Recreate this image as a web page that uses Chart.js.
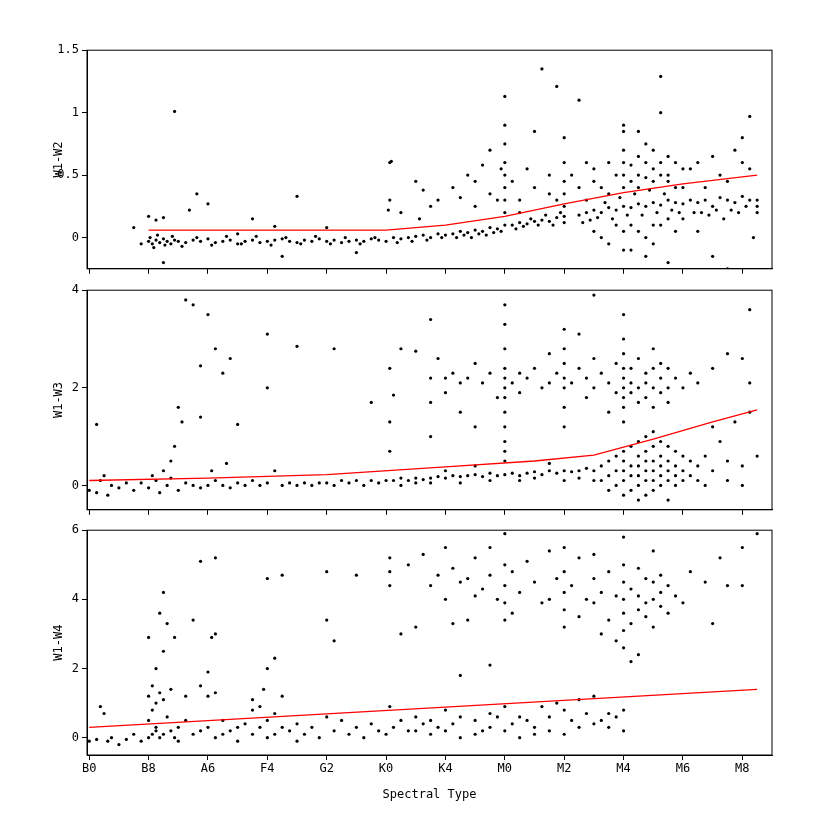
<!DOCTYPE html>
<html>
<head>
<meta charset="utf-8">
<script src="https://cdn.jsdelivr.net/npm/chart.js@4/dist/chart.umd.min.js"></script>
<style>
  body { margin: 0; background: #fff; }
  #wrap { position: relative; width: 830px; height: 830px; }
  .panel { position: absolute; left: 0; width: 830px; }
</style>
</head>
<body>
<div id="wrap">
  <div class="panel" style="top:40px;height:239px"><canvas id="c1"></canvas></div>
  <div class="panel" style="top:280px;height:240px"><canvas id="c2"></canvas></div>
  <div class="panel" style="top:520px;height:282px"><canvas id="c3"></canvas></div>
</div>
<script>
// spectral type axis: one unit per subtype step
const tickPositions = [0, 8, 16, 24, 32, 40, 48, 56, 64, 72, 80, 88];
const tickLabels = ['B0', 'B8', 'A6', 'F4', 'G2', 'K0', 'K4', 'M0', 'M2', 'M4', 'M6', 'M8'];

const w12Ticks = [0, 0.5, 1, 1.5];
const w13Ticks = [0, 2, 4];
const w14Ticks = [0, 2, 4, 6];

// red fit lines
const w12Fit = [[8,0.06],[40,0.06],[48,0.1],[56,0.17],[64,0.27],[72,0.36],[80,0.43],[90,0.5]];
const w13Fit = [[0,0.1],[16,0.15],[32,0.22],[48,0.38],[60,0.5],[68,0.62],[76,0.95],[84,1.3],[90,1.55]];
const w14Fit = [[0,0.3],[90,1.4]];

const w12Points = [
  [8,-0.03],[8.5,-0.05],[9,-0.02],[9.5,-0.04],[10,-0.01],[10.5,-0.03],[11,-0.05],[11.5,-0.02],[12,-0.03],[13,-0.04],[14,-0.02],[15,-0.03],[16,-0.01],[17,-0.04],[18,-0.03],[19,-0.02],[20,-0.05],[21,-0.03],[22,-0.02],[23,-0.04],[24,-0.03],[25,-0.02],[26,-0.01],[27,-0.03],[28,-0.04],[29,-0.02],[30,-0.03],[31,-0.01],[32,-0.03],[33,-0.02],[34,-0.04],[35,-0.03],[36,-0.02],[37,-0.03],[38,-0.01],[39,-0.02],[40,-0.03],
  [8.2,0.0],[8.7,-0.08],[9.2,0.02],[10.2,-0.06],[11.2,0.01],[12.5,-0.07],[14.5,0.0],[16.5,-0.06],[18.5,0.01],[20.5,-0.05],[22.5,0.01],[24.5,-0.06],[26.5,0.0],[28.5,-0.05],[30.5,0.01],[32.5,-0.05],[34.5,0.0],[36.5,-0.05],[38.5,0.0],
  [6,0.08],[7,-0.05],[8,0.17],[9,0.14],[10,0.16],[10,-0.2],[11.5,1.01],[13.5,0.22],[14.5,0.35],[16,0.27],[20,0.03],[22,0.15],[25,0.09],[26,-0.15],[28,0.33],[32,0.08],[36,-0.12],
  [40.5,0.6],[40.7,0.61],[40.5,0.3],[40.3,0.22],[41,0.0],[42,-0.01],[43,0.0],[44,0.01],[45,0.02],[46,0.0],[47,0.03],[48,0.02],[41.5,-0.04],[43.5,-0.03],[45.5,-0.02],[47.5,0.0],[44,0.45],[45,0.38],[46,0.25],[47,0.3],[44.5,0.15],[42,0.2],
  [49,0.03],[50,0.05],[51,0.04],[52,0.06],[53,0.05],[54,0.08],[55,0.07],[56,0.1],[49.5,0.0],[50.5,0.02],[51.5,0.0],[52.5,0.03],[53.5,0.02],[54.5,0.04],[55.5,0.05],
  [49,0.4],[50,0.32],[51,0.5],[52,0.45],[52,0.25],[53,0.58],[54,0.35],[54,0.7],[55,0.3],[55.5,0.55],[56,1.13],[56,0.9],[56,0.75],[56,0.6],[56,0.5],[56,0.4],[56,0.3],[56,0.2],[57,0.45],[58,0.3],[58,0.2],[59,0.55],[60,0.85],[60,0.4],[61,1.35],
  [57,0.1],[58,0.12],[59,0.11],[60,0.13],[61,0.14],[62,0.13],[63,0.16],[64,0.17],[57.5,0.07],[58.5,0.09],[59.5,0.15],[60.5,0.1],[61.5,0.18],[62.5,0.1],[63.5,0.2],[64,0.12],
  [62,0.5],[62,0.35],[63,1.21],[63,0.3],[64,0.8],[64,0.6],[64,0.45],[64,0.35],[64,0.25],[65,0.5],[66,1.1],[66,0.4],[67,0.6],[67,0.3],
  [66,0.18],[67,0.2],[68,0.22],[69,0.2],[70,0.24],[71,0.22],[72,0.25],[73,0.24],[74,0.27],[75,0.25],[76,0.28],[77,0.26],[78,0.3],[79,0.28],[80,0.27],[66.5,0.12],[67.5,0.14],[68.5,0.16],[69.5,0.28],[70.5,0.15],[71.5,0.32],[72.5,0.18],[73.5,0.35],[74.5,0.18],[75.5,0.38],[76.5,0.2],[77.5,0.35],[78.5,0.22],[79.5,0.2],
  [68,0.55],[68,0.45],[68,0.05],[69,0.4],[69,0.0],[70,0.35],[70,0.6],[70,-0.05],[71,0.5],[71,0.1],[72,0.9],[72,0.85],[72,0.7],[72,0.6],[72,0.5],[72,0.4],[72,0.05],[72,-0.1],[73,0.45],[73,0.58],[73,0.1],[74,0.65],[74,0.5],[74,0.4],[74,0.05],[75,0.6],[75,0.48],[75,0.0],[75,-0.15],[76,0.7],[76,0.55],[76,0.45],[76,0.1],[76,-0.05],[77,1.29],[77,1.0],[77,0.6],[77,0.5],[77,0.1],[78,0.65],[78,0.5],[78,0.45],[78,0.15],[78,-0.2],[79,0.6],[79,0.4],[79,0.05],[80,0.55],[80,0.4],[80,0.15],[74,0.85],[75,0.75],[73,-0.1],
  [81,0.3],[82,0.28],[83,0.3],[84,0.25],[85,0.32],[86,0.3],[87,0.28],[88,0.33],[89,0.3],[90,0.3],[81,0.55],[82,0.6],[83,0.4],[84,0.65],[85,0.5],[86,0.45],[87,0.7],[88,0.8],[89,0.55],[90,0.25],[81.5,0.2],[82.5,0.2],[83.5,0.18],[84.5,0.22],[85.5,0.15],[86.5,0.22],[87.5,0.2],[88.5,0.25],[89.5,0.0],[82,0.05],[84,-0.15],[86,-0.25],[88,0.6],[89,0.97],[90,0.2]
];

const w13Points = [
  [0,-0.1],[1,-0.15],[1.5,0.1],[2,0.2],[2.5,-0.2],[3,0.0],[4,-0.05],[5,0.05],[6,-0.1],[7,0.05],[8,-0.05],[8.5,0.2],[9,0.1],[9.5,-0.15],[10,0.3],[10.5,0.0],[11,0.5],[11.5,0.8],[11,0.15],[12,-0.1],[12,1.6],[12.5,1.3],[13,0.05],[14,0.0],[15,-0.05],[16,0.0],[16.5,0.3],[17,0.1],[18,0.0],[18.5,0.45],[19,-0.05],[20,0.05],[21,0.0],[22,0.1],[23,0.0],[24,0.05],[25,0.3],[26,0.0],[27,0.05],[28,0.0],[29,0.05],[30,0.0],[31,0.05],[32,0.05],[33,0.0],[34,0.1],[35,0.05],[36,0.1],[37,0.0],[38,0.1],[39,0.05],[40,0.1],
  [1,1.25],[13,3.8],[14,3.7],[15,2.45],[15,1.4],[16,3.5],[17,2.8],[18,2.3],[19,2.6],[20,1.25],[24,3.1],[24,2.0],[28,2.85],[33,2.8],[38,1.7],[40.5,2.4],[40.5,1.3],[40.5,0.7],[41,1.85],[42,2.8],[44,2.75],[46,3.4],[46,2.2],[46,1.7],[46,1.0],[47,2.6],[48,2.2],[48,1.9],[49,2.3],[50,1.5],[50,2.1],[51,2.2],[52,2.5],[52,1.2],[53,2.1],[54,2.3],[55,1.8],[56,3.7],[56,3.3],[56,2.8],[56,2.4],[56,2.2],[56,2.0],[56,1.8],[56,1.5],[56,1.2],[56,0.9],[56,0.7],[57,2.1],[58,2.3],[58,1.9],[59,2.2],[60,2.4],[61,2.0],[62,2.1],[62,2.7],[63,2.3],[64,3.2],[64,2.8],[64,2.5],[64,2.2],[64,2.0],[64,1.6],[64,1.2],[65,2.1],[66,3.1],[66,2.4],[67,1.8],[67,2.2],[68,3.9],[68,2.6],[68,2.0],[69,2.3],[70,1.5],[70,2.1],[71,2.5],[71,1.9],[72,3.5],[72,3.0],[72,2.7],[72,2.4],[72,2.2],[72,2.0],[72,1.8],[72,1.6],[72,1.3],[73,2.1],[73,1.9],[73,2.4],[74,2.6],[74,2.0],[74,1.7],[75,2.3],[75,2.1],[75,1.8],[76,2.8],[76,2.4],[76,2.0],[76,1.6],[77,2.5],[77,2.2],[77,1.9],[78,2.4],[78,2.0],[78,1.7],[79,2.2],[80,2.0],[81,2.3],[82,2.1],[84,2.4],[86,2.7],[88,2.6],[89,3.6],[89,2.1],
  [41,0.1],[42,0.15],[43,0.1],[44,0.15],[45,0.12],[46,0.15],[47,0.18],[48,0.15],[49,0.2],[50,0.18],[51,0.2],[52,0.22],[53,0.18],[54,0.25],[55,0.2],[56,0.22],[57,0.25],[58,0.2],[59,0.25],[60,0.28],[61,0.22],[62,0.3],[63,0.25],[64,0.3],[65,0.28],[66,0.3],[67,0.35],[68,0.3],[42,0.0],[44,0.05],[46,0.05],[48,0.3],[50,0.05],[52,0.4],[54,0.1],[56,0.5],[58,0.1],[60,0.15],[62,0.45],[64,0.1],[66,0.15],[68,0.1],
  [69,0.4],[69,0.1],[70,0.5],[70,0.2],[70,-0.1],[71,0.6],[71,0.3],[71,0.0],[72,0.7],[72,0.5],[72,0.3],[72,0.1],[72,-0.2],[73,0.8],[73,0.4],[73,0.2],[73,-0.1],[74,0.9],[74,0.6],[74,0.4],[74,0.2],[74,0.0],[74,-0.3],[75,1.0],[75,0.7],[75,0.5],[75,0.3],[75,0.1],[75,-0.2],[76,1.1],[76,0.8],[76,0.5],[76,0.3],[76,0.1],[76,-0.1],[77,0.9],[77,0.6],[77,0.4],[77,0.2],[77,0.0],[78,0.8],[78,0.5],[78,0.3],[78,0.1],[78,-0.3],[79,0.7],[79,0.4],[79,0.2],[79,0.0],[80,0.6],[80,0.3],[80,0.1],[81,0.5],[81,0.2],[82,0.4],[82,0.1],[83,0.6],[84,0.3],[84,1.2],[85,0.9],[86,0.5],[87,1.3],[88,0.4],[88,0.0],[89,1.5],[90,0.6],[86,0.1],[83,0.0]
];

const w14Points = [
  [0,-0.1],[1,-0.05],[1.5,0.9],[2,0.7],[2.5,-0.1],[3,0.0],[4,-0.2],[5,-0.05],[6,0.1],[7,-0.1],[8,0.0],[8,0.5],[8,1.2],[8,2.9],[8.5,0.1],[8.5,1.5],[8.5,0.8],[9,0.2],[9,2.0],[9,1.0],[9,0.3],[9.5,3.6],[9.5,1.3],[9.5,0.0],[10,4.2],[10,2.5],[10,1.1],[10,0.1],[10.5,3.3],[10.5,0.6],[11,1.4],[11,0.2],[11.5,2.9],[11.5,0.0],[12,0.3],[12,-0.1],[13,0.5],[13,1.2],[14,0.1],[14,3.4],[15,5.1],[15,1.5],[15,0.2],[16,1.9],[16,1.2],[16,0.3],[16.5,2.9],[17,5.2],[17,3.0],[17,1.3],[17,0.0],[18,0.5],[18,0.1],[19,0.2],[20,0.3],[20,-0.1],[21,0.4],[22,1.1],[22,0.8],[22,0.1],[23,0.9],[23,0.3],[23.5,1.4],[24,4.6],[24,2.0],[24,0.5],[24,0.0],[25,2.3],[25,0.7],[25,0.1],[26,4.7],[26,1.2],[26,0.3],[27,0.2],[28,0.4],[28,-0.1],[29,0.1],[30,0.3],[31,0.0],[32,0.6],[32,4.8],[32,3.4],[33,2.8],[33,0.2],[34,0.5],[35,0.1],[36,4.7],[36,0.3],[37,0.0],[38,0.4],[39,0.2],[40,0.1],
  [40.5,5.2],[40.5,4.8],[40.5,4.4],[40.5,0.9],[41,0.3],[42,3.0],[42,0.5],[43,5.0],[43,0.2],[44,3.2],[44,0.6],[45,5.3],[45,0.4],[46,4.4],[46,0.1],[47,4.7],[47,0.3],[48,5.5],[48,4.0],[48,0.8],[48,0.2],[49,4.9],[49,3.3],[49,0.4],[50,4.5],[50,1.8],[50,0.0],[51,3.4],[51,4.6],[52,5.2],[52,4.1],[52,0.5],[53,4.3],[53,0.2],[54,5.5],[54,4.7],[54,2.1],[54,0.3],[55,4.0],[55,0.6],[56,5.9],[56,5.0],[56,4.4],[56,3.9],[56,3.4],[56,0.9],[56,0.2],[57,4.8],[57,3.6],[57,0.4],[58,4.2],[58,0.0],[59,5.1],[59,0.5],[60,4.5],[60,0.3],[61,3.9],[61,0.9],[62,5.4],[62,4.0],[62,0.6],[63,4.6],[63,1.0],[64,5.5],[64,4.8],[64,4.2],[64,3.7],[64,3.2],[64,0.8],[64,0.1],[65,4.4],[65,0.5],[66,5.2],[66,3.5],[66,1.1],[67,4.0],[67,0.7],[68,5.3],[68,4.6],[68,3.9],[68,1.2],[69,4.2],[69,3.0],[69,0.5],[70,4.8],[70,3.4],[70,0.3],[71,4.1],[71,2.8],[71,0.6],[72,5.8],[72,5.0],[72,4.5],[72,4.0],[72,3.6],[72,3.1],[72,2.6],[72,0.8],[72,0.2],[73,4.3],[73,3.3],[73,2.2],[74,4.9],[74,4.1],[74,3.7],[74,2.4],[75,4.6],[75,3.9],[75,3.5],[76,5.4],[76,4.5],[76,4.0],[76,3.2],[77,4.7],[77,4.2],[77,3.8],[78,4.4],[78,3.6],[79,4.1],[80,3.9],[81,4.8],[83,4.5],[84,3.3],[85,5.2],[86,4.4],[88,5.5],[88,4.4],[90,5.9],
  [44,0.2],[46,0.5],[50,0.6],[52,0.1],[54,0.7],[58,0.6],[60,0.1],[62,0.2],[66,0.3],[68,0.4],[70,0.7]
];

const font = { family: "'DejaVu Sans Mono', monospace", size: 12 };

// box around each plot area
const frame = {
  id: 'frame',
  afterDraw(chart) {
    const a = chart.chartArea, ctx = chart.ctx;
    ctx.save();
    ctx.strokeStyle = '#000';
    ctx.lineWidth = 1;
    ctx.strokeRect(a.left, a.top, a.right - a.left, a.bottom - a.top);
    ctx.restore();
  }
};

function toXY(pairs) {
  return pairs.map(p => ({ x: p[0], y: p[1] }));
}

function makePanel(id, points, fit, yMin, yMax, yTicks, yTitle, bottom) {
  new Chart(document.getElementById(id), {
    type: 'scatter',
    data: {
      datasets: [
        { data: toXY(fit), showLine: true, borderColor: '#ff0000', borderWidth: 1.3, pointRadius: 0, order: 0 },
        { data: toXY(points), backgroundColor: '#000', borderWidth: 0, pointRadius: 1.6, order: 1 }
      ]
    },
    options: {
      animation: false,
      responsive: true,
      maintainAspectRatio: false,
      layout: { padding: { left: 52, right: 58, top: 5, bottom: 0 } },
      plugins: { legend: { display: false }, tooltip: { enabled: false } },
      scales: {
        x: {
          type: 'linear', min: -0.3, max: 92,
          afterBuildTicks: s => { s.ticks = tickPositions.map(v => ({ value: v })); },
          afterFit: s => { s.height = bottom ? 47 : 8; },
          ticks: {
            display: bottom, color: '#000', font: font, maxRotation: 0, padding: 2,
            callback: v => tickLabels[tickPositions.indexOf(v)]
          },
          grid: { drawOnChartArea: false, color: '#000', tickLength: 5 },
          border: { color: '#000' },
          title: { display: bottom, text: 'Spectral Type', color: '#000', font: font, padding: { top: 2, bottom: 0 } },
        },
        y: {
          min: yMin, max: yMax,
          afterBuildTicks: s => { s.ticks = yTicks.map(v => ({ value: v })); },
          afterFit: s => { s.width = 35; },
          ticks: { color: '#000', font: font, padding: 3, callback: v => String(v) },
          grid: { drawOnChartArea: false, color: '#000', tickLength: 5 },
          border: { color: '#000' },
          title: { display: true, text: yTitle, color: '#000', font: font, padding: 0 }
        }
      }
    },
    plugins: [frame]
  });
}

makePanel('c1', w12Points, w12Fit, -0.25, 1.5, w12Ticks, 'W1-W2', false);
makePanel('c2', w13Points, w13Fit, -0.5, 4, w13Ticks, 'W1-W3', false);
makePanel('c3', w14Points, w14Fit, -0.5, 6, w14Ticks, 'W1-W4', true);
</script>
</body>
</html>
